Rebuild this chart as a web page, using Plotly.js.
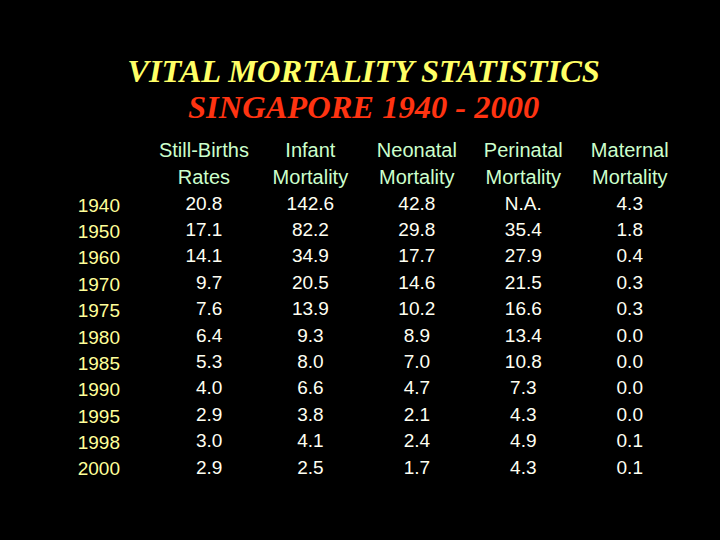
<!DOCTYPE html>
<html>
<head>
<meta charset="utf-8">
<script src="https://cdn.plot.ly/plotly-3.0.1.min.js"></script>
<style>html,body{margin:0;padding:0;background:#000;}#chart{width:720px;height:540px;}</style>
</head>
<body>
<div id="chart"></div>
<script>
const years = ['1940','1950','1960','1970','1975','1980','1985','1990','1995','1998','2000'];
const headerLine1 = ['Still-Births','Infant','Neonatal','Perinatal','Maternal'];
const headerLine2 = ['Rates','Mortality','Mortality','Mortality','Mortality'];
const stillBirths = [20.8, 17.1, 14.1, 9.7, 7.6, 6.4, 5.3, 4.0, 2.9, 3.0, 2.9];
const infant = [142.6, 82.2, 34.9, 20.5, 13.9, 9.3, 8.0, 6.6, 3.8, 4.1, 2.5];
const neonatal = [42.8, 29.8, 17.7, 14.6, 10.2, 8.9, 7.0, 4.7, 2.1, 2.4, 1.7];
const perinatal = [null, 35.4, 27.9, 21.5, 16.6, 13.4, 10.8, 7.3, 4.3, 4.9, 4.3];
const maternal = [4.3, 1.8, 0.4, 0.3, 0.3, 0.0, 0.0, 0.0, 0.0, 0.1, 0.1];
const titleLine1 = 'VITAL MORTALITY STATISTICS';
const titleLine2 = 'SINGAPORE 1940 - 2000';

const FONT = 'Liberation Sans, Arial, sans-serif';
const SERIF = 'Liberation Serif, Times New Roman, serif';
const rowCats = ['h1', 'h2'].concat(years);
const colCats = headerLine1;

function fmt(v) { return v === null ? 'N.A.' : v.toFixed(1); }

const traces = [];
traces.push({
  type: 'scatter', mode: 'text', x: colCats, y: colCats.map(() => 'h1'),
  text: headerLine1, textposition: 'middle center',
  textfont: {family: FONT, size: 20, color: '#CCFFCC'}, hoverinfo: 'skip', cliponaxis: false
});
traces.push({
  type: 'scatter', mode: 'text', x: colCats, y: colCats.map(() => 'h2'),
  text: headerLine2, textposition: 'middle center',
  textfont: {family: FONT, size: 20, color: '#CCFFCC'}, hoverinfo: 'skip', cliponaxis: false
});
const series = [stillBirths, infant, neonatal, perinatal, maternal];
series.forEach((vals, i) => {
  const txt = vals.map(v => i === 0 ? fmt(v).padStart(4, '\u2007') : fmt(v));
  traces.push({
    type: 'scatter', mode: 'text', x: vals.map(() => colCats[i]), y: years,
    text: txt, textposition: 'middle center',
    textfont: {family: FONT, size: 19, color: '#FFFFF2'}, hoverinfo: 'skip', cliponaxis: false
  });
});

const layout = {
  width: 720, height: 540,
  paper_bgcolor: '#000', plot_bgcolor: '#000',
  showlegend: false,
  margin: {l: 121, r: 37, t: 138.8, b: 57.8},
  title: {
    text: '<b><i>' + titleLine1 + '</i></b>',
    font: {family: SERIF, size: 32.5, color: '#FFFF66'},
    x: 0.505, xanchor: 'center', y: 0.870, yanchor: 'middle', yref: 'container'
  },
  annotations: [{
    text: '<b><i>' + titleLine2 + '</i></b>',
    font: {family: SERIF, size: 32.5, color: '#FF3311'},
    xref: 'paper', yref: 'paper', x: (363.5 - 121) / (720 - 121 - 37), y: 1.0926,
    xanchor: 'center', yanchor: 'middle', showarrow: false
  }],
  xaxis: {type: 'category', categoryarray: colCats, range: [-0.779, 4.5], visible: false, fixedrange: true},
  yaxis: {
    type: 'category', categoryorder: 'array', categoryarray: rowCats, range: [12.5, -0.5],
    tickmode: 'array', tickvals: years, ticktext: years,
    showgrid: false, zeroline: false, showline: false, ticks: '',
    tickfont: {family: FONT, size: 19, color: '#FFFF99'}, fixedrange: true
  }
};
Plotly.newPlot('chart', traces, layout, {displayModeBar: false, staticPlot: true});
</script>
</body>
</html>
